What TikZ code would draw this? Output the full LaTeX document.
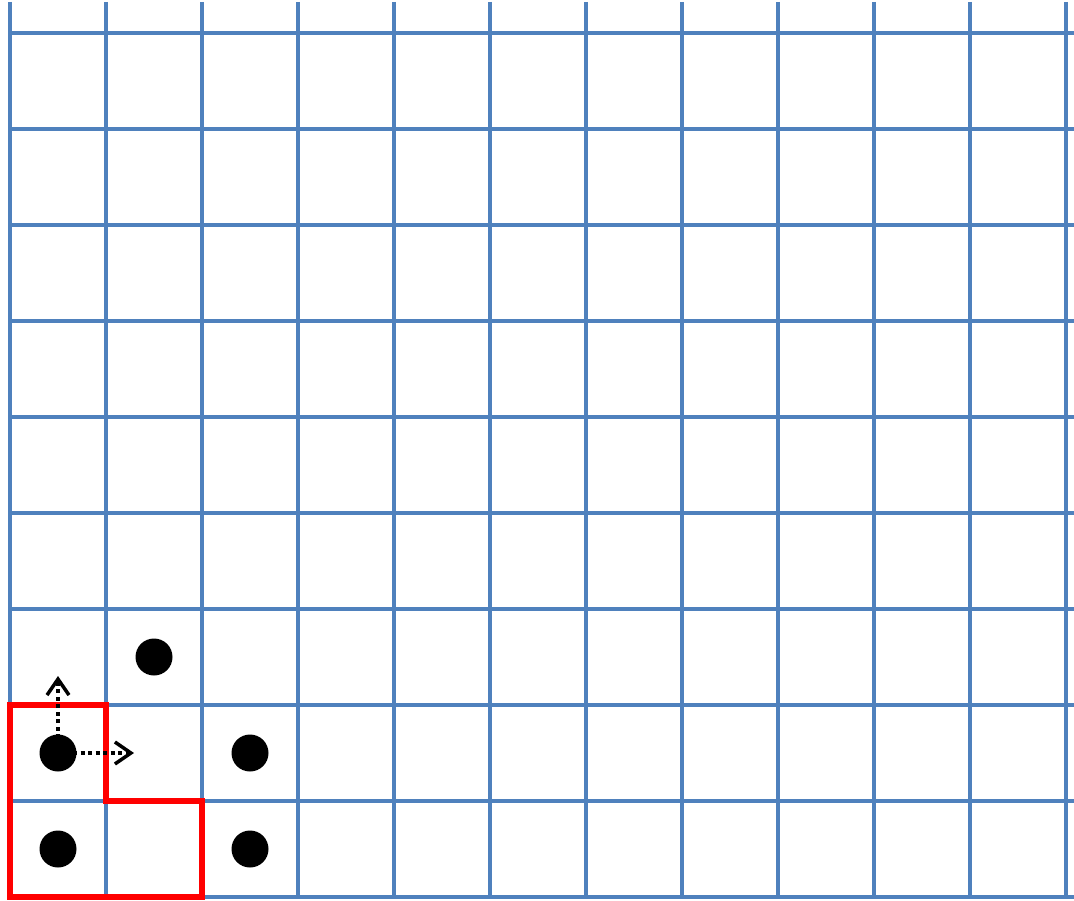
\documentclass[tikz,border=0pt]{standalone}
\usetikzlibrary{arrows.meta}
\definecolor{gridblue}{HTML}{4F81BD}
\begin{document}
\begin{tikzpicture}[x=1pt,y=-1pt,
  gridline/.style={draw=gridblue,line width=3.5pt},
  region/.style={draw=red,line width=6.5pt,line join=miter},
  dot/.style={circle,fill=black,minimum size=37pt,inner sep=0pt},
  move/.style={draw=black,line width=4pt,dash pattern=on 4pt off 3.5pt,
    -{Straight Barb[length=16pt,width=22pt,line width=3.5pt]}}]
\useasboundingbox (0,0) rectangle (1074,901);
\foreach \i in {0,...,11} {
  \draw[gridline] (10+96*\i,2) -- (10+96*\i,897);
}
\foreach \j in {0,...,9} {
  \draw[gridline] (10,33+96*\j) -- (1074,33+96*\j);
}
\draw[region] (10,705) -- (106,705) -- (106,801) -- (202,801) -- (202,897) -- (10,897) -- cycle;
\node[dot] (a) at (58,753) {};
\node[dot] (b) at (58,849) {};
\node[dot] (c) at (250,753) {};
\node[dot] (d) at (250,849) {};
\node[dot] (e) at (154,657) {};
\coordinate (up) at (58,676);
\coordinate (right) at (134,753);
\draw[move] (a.center) -- (up);
\draw[move] (a.center) -- (right);
\end{tikzpicture}
\end{document}
